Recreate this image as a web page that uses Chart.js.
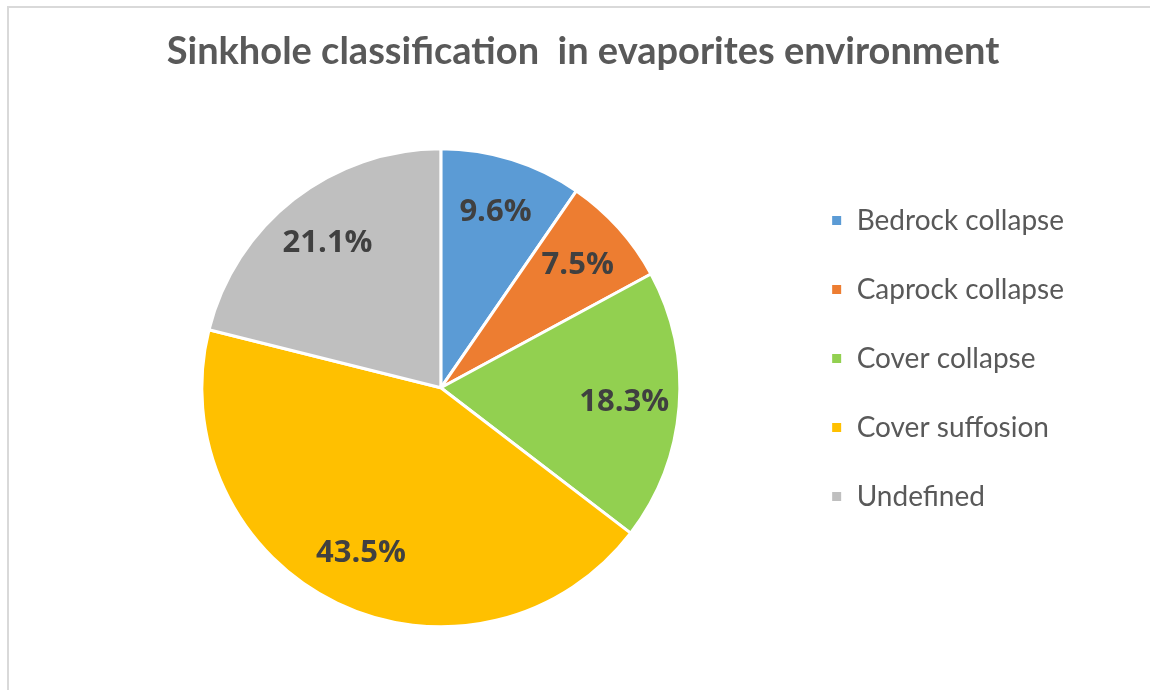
<!DOCTYPE html>
<html>
<head>
<meta charset="utf-8">
<script src="https://cdn.jsdelivr.net/npm/chart.js@4.4.0/dist/chart.umd.min.js"></script>
<style>
  html, body { margin: 0; padding: 0; background: #fff; overflow: hidden; }
  #frame { position: absolute; left: 7px; top: 6px; width: 1200px; height: 720px;
           border-top: 2px solid #d9d9d9; border-left: 2px solid #d9d9d9; }
  #sinkholeChart { position: absolute; left: 0; top: 0; }
</style>
</head>
<body>
<div id="frame"></div>
<canvas id="sinkholeChart" width="1150" height="690"></canvas>
<script>
// Data diambil dari gambar
const categories = ['Bedrock collapse', 'Caprock collapse', 'Cover collapse', 'Cover suffosion', 'Undefined'];
const percentages = [9.6, 7.5, 18.3, 43.5, 21.1];
const sliceColors = ['#5B9BD5', '#ED7D31', '#92D050', '#FFC000', '#BFBFBF'];

// Plugin kecil untuk menulis label persentase di dalam irisan
const sliceLabels = {
    id: 'sliceLabels',
    afterDatasetsDraw(chart) {
        const ctx = chart.ctx;
        const meta = chart.getDatasetMeta(0);
        ctx.save();
        ctx.font = 'bold 31px "Open Sans"';
        ctx.fillStyle = '#404040';
        ctx.textAlign = 'center';
        ctx.textBaseline = 'middle';
        meta.data.forEach((arc, i) => {
            const p = arc.getProps(['x', 'y', 'startAngle', 'endAngle', 'outerRadius'], true);
            const mid = (p.startAngle + p.endAngle) / 2;
            const r = p.outerRadius * 0.77;
            ctx.fillText(percentages[i].toFixed(1) + '%', p.x + Math.cos(mid) * r, p.y + Math.sin(mid) * r);
        });
        ctx.restore();
    }
};

const ctx = document.getElementById('sinkholeChart').getContext('2d');
const sinkholeChart = new Chart(ctx, {
    type: 'pie',
    data: {
        labels: categories,
        datasets: [{
            data: percentages,
            backgroundColor: sliceColors,
            borderColor: '#ffffff',
            borderWidth: 3
        }]
    },
    options: {
        responsive: false,
        animation: false,
        radius: 239,
        layout: {
            padding: { left: 92, right: 76, top: 27, bottom: 0 }
        },
        plugins: {
            title: {
                display: true,
                text: 'Sinkhole classification  in evaporites environment',
                color: '#595959',
                font: { family: 'Lato', size: 38, weight: 'bold' },
                padding: { top: 2, bottom: 11 }
            },
            legend: {
                position: 'right',
                labels: {
                    boxWidth: 12,
                    boxHeight: 12,
                    padding: 41,
                    color: '#595959',
                    font: { family: 'Lato', size: 28 }
                }
            },
            tooltip: { enabled: false }
        }
    },
    plugins: [sliceLabels]
});
</script>
</body>
</html>
